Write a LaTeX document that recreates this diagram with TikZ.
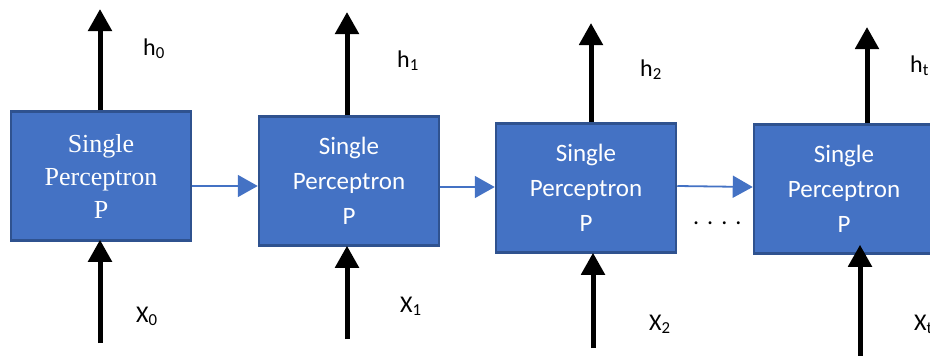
\documentclass[tikz,border=0pt]{standalone}
\usepackage{fontspec}
\setmainfont{Carlito}
\newfontfamily\serifbox{Liberation Serif}
\usetikzlibrary{arrows.meta}
\definecolor{boxfill}{HTML}{4472C4}
\definecolor{boxline}{HTML}{2F528F}
\begin{document}
\begin{tikzpicture}[x=1pt,y=-1pt,
  pbox/.style={draw=boxline,line width=2.5pt,fill=boxfill,text=white,
    minimum width=180pt,minimum height=129pt,inner sep=0pt,align=center,
    font=\fontsize{25}{35}\selectfont},
  bigarrow/.style={line width=5pt,-{Triangle[length=22pt,width=23pt]}},
  linkarrow/.style={draw=boxfill,line width=1.8pt,-{Triangle[length=20pt,width=22pt]},color=boxfill},
  lbl/.style={anchor=base west,inner sep=0pt,font=\fontsize{24}{28}\selectfont}]
\useasboundingbox (0,0) rectangle (930,356);
% boxes
\node[pbox,font=\serifbox\fontsize{26}{33}\selectfont] (b1) at (101,176) {Single\\Perceptron\\P};
\node[pbox] (b2) at (349,181) {Single\\Perceptron\\P};
\node[pbox] (b3) at (586,188) {Single\\Perceptron\\P};
\node[pbox] (b4) at (844,189) {Single\\Perceptron\\P};
% output ends
\coordinate (o1) at (100,9);
\coordinate (o2) at (347,12);
\coordinate (o3) at (591,23);
\coordinate (o4) at (867,27);
% input ends
\coordinate (i1) at (100,343);
\coordinate (i2) at (347,339);
\coordinate (i3) at (593,348);
\coordinate (i4) at (860,360);
% up arrows (outputs)
\draw[bigarrow] (b1.north -| o1) -- (o1);
\draw[bigarrow] (b2.north -| o2) -- (o2);
\draw[bigarrow] (b3.north -| o3) -- (o3);
\draw[bigarrow] (b4.north -| o4) -- (o4);
% up arrows (inputs)
\draw[bigarrow] (i1) -- ([yshift=2pt]b1.south -| i1);
\draw[bigarrow] (i2) -- ([yshift=1pt]b2.south -| i2);
\draw[bigarrow] (i3) -- ([yshift=1pt]b3.south -| i3);
\draw[bigarrow] (i4) -- ([yshift=10pt]b4.south -| i4);
% links
\draw[linkarrow] (b1.east |- 0,186) -- (b2.west |- 0,186);
\draw[linkarrow] (b2.east |- 0,187) -- (b3.west |- 0,187);
\draw[linkarrow] (b3.east |- 0,186) -- (b4.west |- 0,187);
% labels
\node[lbl] (h0) at (143,55) {h\textsubscript{0}};
\node[lbl] (h1) at (397,67) {h\textsubscript{1}};
\node[lbl] (h2) at (640,76) {h\textsubscript{2}};
\node[lbl] (ht) at (910,72) {h\textsubscript{t}};
\node[lbl] (x0) at (136,322) {X\textsubscript{0}};
\node[lbl] (x1) at (400,312) {X\textsubscript{1}};
\node[lbl] (x2) at (649,330) {X\textsubscript{2}};
\node[lbl] (xt) at (914,330) {X\textsubscript{t}};
\node[lbl] (dots) at (693,224) {.\,\,.\,\,.\,\,.};
\end{tikzpicture}
\end{document}
